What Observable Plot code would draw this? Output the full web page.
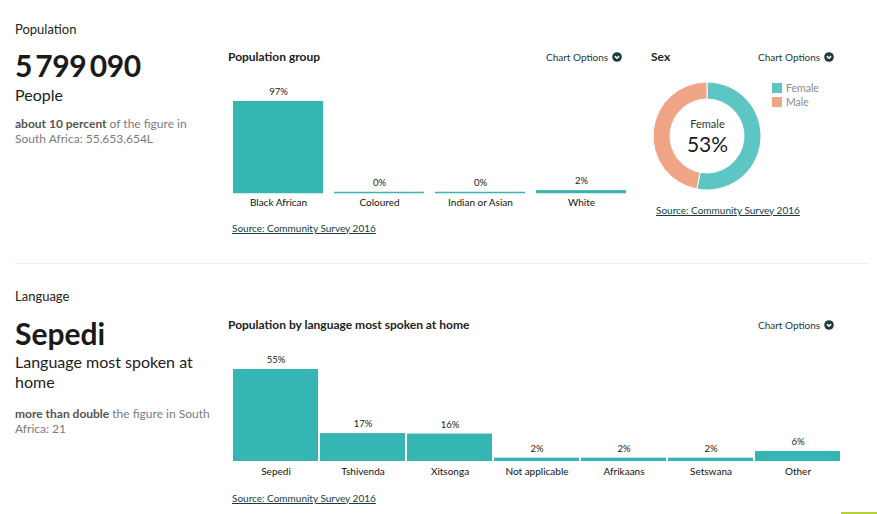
<!DOCTYPE html>
<html>
<head>
<meta charset="utf-8">
<script src="https://cdn.jsdelivr.net/npm/d3@7"></script>
<script src="https://cdn.jsdelivr.net/npm/@observablehq/plot@0.6"></script>
<style>
  html, body { margin: 0; padding: 0; background: #fff; }
  body { width: 877px; height: 514px; position: relative; overflow: hidden; font-family: Lato, "Open Sans", sans-serif; color: #222; }
  .t { position: absolute; white-space: nowrap; line-height: 1; }
  .opt { position: absolute; font-size: 10px; color: #24393b; line-height: 1; white-space: nowrap; }
  .opt svg { vertical-align: -1px; margin-left: 4px; }
  .src { position: absolute; font-size: 10px; color: #163c3e; text-decoration: underline; line-height: 1; white-space: nowrap; }
  .plot { position: absolute; }
  .gray b { color: #555; font-weight: 700; }
  .leg { position: absolute; font-size: 10.5px; color: #8a8a8a; line-height: 1; }
  .leg i { display: inline-block; width: 10px; height: 10px; vertical-align: -1px; margin-right: 4px; }
</style>
</head>
<body>
<script>
// ---- data ----
const popGroups = ["Black African", "Coloured", "Indian or Asian", "White"];
const popGroupValues = [97, 0, 0, 2];

const sexLabels = ["Female", "Male"];
const sexValues = [53, 47];

const languages = ["Sepedi", "Tshivenda", "Xitsonga", "Not applicable", "Afrikaans", "Setswana", "Other"];
const languageValues = [55, 16.7, 16.4, 2, 2, 2, 6];

const teal = "#35b5b4";
const sexColors = ["#5dc5c4", "#f0a586"];
const font = "Lato, 'Open Sans', sans-serif";

// ---- helpers ----
function addText(html, left, baseline, size, extra = "") {
  const d = document.createElement("div");
  d.className = "t";
  d.style.left = left + "px";
  d.style.top = (baseline - 0.887 * size) + "px";
  d.style.fontSize = size + "px";
  d.style.cssText += extra;
  d.innerHTML = html;
  document.body.appendChild(d);
  return d;
}
const chevron = `<svg width="10" height="10" viewBox="0 0 10 10"><circle cx="5" cy="5" r="4.8" fill="#1f3b3d"/><path d="M2.9 4.1 L5 6.2 L7.1 4.1" stroke="#fff" stroke-width="1.5" fill="none"/></svg>`;
function addOptions(left, baseline) {
  const d = document.createElement("div");
  d.className = "opt";
  d.style.left = left + "px";
  d.style.top = (baseline - 0.887 * 10) + "px";
  d.innerHTML = "Chart Options" + chevron;
  document.body.appendChild(d);
}
function addSource(left, baseline) {
  const d = document.createElement("div");
  d.className = "src";
  d.style.left = left + "px";
  d.style.top = (baseline - 0.887 * 10) + "px";
  d.textContent = "Source: Community Survey 2016";
  document.body.appendChild(d);
}
function place(node, left, top) {
  node.classList.add("plot");
  node.style.left = left + "px";
  node.style.top = top + "px";
  document.body.appendChild(node);
}

// ---- left text column ----
addText("Population", 15, 35, 13, "color:#222;");
addText("5&thinsp;799&thinsp;090", 15, 77, 30, "font-weight:700;color:#1a1a1a;letter-spacing:-0.4px;");
addText("People", 15, 101, 16, "color:#222;");
addText("<b>about 10 percent</b> of the figure in", 15, 128.5, 12, "color:#7b7b7b;").classList.add("gray");
addText("South Africa: 55,653,654L", 15, 143.5, 12, "color:#7b7b7b;");

addText("Language", 15, 302, 13, "color:#222;");
addText("Sepedi", 15, 344.5, 30, "font-weight:700;color:#1a1a1a;");
addText("Language most spoken at", 15, 368.5, 16, "color:#222;");
addText("home", 15, 388.5, 16, "color:#222;");
addText("<b>more than double</b> the figure in South", 15, 418.5, 12, "color:#7b7b7b;").classList.add("gray");
addText("Africa: 21", 15, 433.5, 12, "color:#7b7b7b;");

// divider
const hr = document.createElement("div");
hr.style.cssText = "position:absolute;left:15px;top:263px;width:853px;height:1px;background:#ececec;";
document.body.appendChild(hr);
// bottom-right accent
const acc = document.createElement("div");
acc.style.cssText = "position:absolute;left:841px;top:512px;width:36px;height:2px;background:#b5d333;";
document.body.appendChild(acc);

// ---- Population group chart ----
addText("Population group", 228, 62, 12, "font-weight:700;color:#222;");
addOptions(546, 61);
const popData = popGroups.map((g, i) => ({group: g, value: popGroupValues[i]}));
const popPlot = Plot.plot({
  width: 395, height: 150,
  marginLeft: 0, marginRight: 0, marginTop: 31, marginBottom: 28,
  style: {fontFamily: font, background: "transparent", overflow: "visible"},
  x: {domain: popGroups, paddingInner: 0.105, paddingOuter: 0, axis: null},
  y: {domain: [0, d3.max(popGroupValues)], axis: null},
  marks: [
    Plot.barY(popData, {x: "group", y: "value", fill: teal}),
    Plot.tickY(popData, {x: "group", y: 0, stroke: teal, strokeWidth: 1.5}),
    Plot.text(popData, {x: "group", y: "value", text: d => Math.round(d.value) + "%", dy: -10, fontSize: 9.5, fill: "#222"}),
    Plot.text(popData, {x: "group", y: 0, text: "group", dy: 10.5, fontSize: 10, fill: "#111"})
  ]
});
place(popPlot, 232, 70);
addSource(232, 231.5);

// ---- Sex donut ----
addText("Sex", 651, 62, 12, "font-weight:700;color:#222;");
addOptions(758, 61);
const sexData = sexLabels.map((s, i) => ({sex: s, value: sexValues[i]}));
const sexColor = d3.scaleOrdinal(sexLabels, sexColors);
const donut = (index, scales, values, dims) => {
  const cx = dims.width / 2, cy = dims.height / 2;
  const arcs = d3.pie().sort(null).value(d => d.value)(sexData);
  const arc = d3.arc().innerRadius(37).outerRadius(54);
  const g = d3.create("svg:g").attr("transform", `translate(${cx},${cy})`);
  g.selectAll("path").data(arcs).join("path")
    .attr("d", arc).attr("fill", d => sexColor(d.data.sex))
    .attr("stroke", "#fff").attr("stroke-width", 1);
  return g.node();
};
const topSex = sexData[0];
const sexPlot = Plot.plot({
  width: 140, height: 140, margin: 0,
  style: {fontFamily: font, background: "transparent", overflow: "visible"},
  marks: [
    donut,
    Plot.text([topSex], {frameAnchor: "middle", text: d => d.sex, dy: -12, fontSize: 11, fill: "#333"}),
    Plot.text([topSex], {frameAnchor: "middle", text: d => d.value + "%", dy: 8.5, fontSize: 21, fill: "#1a1a1a"})
  ]
});
place(sexPlot, 637, 66);
sexLabels.forEach((s, i) => {
  const d = document.createElement("div");
  d.className = "leg";
  d.style.left = "772px";
  d.style.top = (83 + i * 14) + "px";
  d.innerHTML = `<i style="background:${sexColors[i]}"></i>${s}`;
  document.body.appendChild(d);
});
addSource(656, 213.5);

// ---- Language chart ----
addText("Population by language most spoken at home", 228, 330, 12, "font-weight:700;color:#222;");
addOptions(758, 329);
const langData = languages.map((l, i) => ({lang: l, value: languageValues[i]}));
const langPlot = Plot.plot({
  width: 609, height: 160,
  marginLeft: 0, marginRight: 0, marginTop: 39, marginBottom: 29,
  style: {fontFamily: font, background: "transparent", overflow: "visible"},
  x: {domain: languages, paddingInner: 0.026, paddingOuter: 0, axis: null},
  y: {domain: [0, d3.max(languageValues)], axis: null},
  marks: [
    Plot.barY(langData, {x: "lang", y: "value", fill: teal}),
    Plot.text(langData, {x: "lang", y: "value", text: d => Math.round(d.value) + "%", dy: -9.5, fontSize: 9.5, fill: "#222"}),
    Plot.text(langData, {x: "lang", y: 0, text: "lang", dy: 10, fontSize: 10, fill: "#111"})
  ]
});
place(langPlot, 232, 330);
addSource(232, 501.5);
</script>
</body>
</html>
